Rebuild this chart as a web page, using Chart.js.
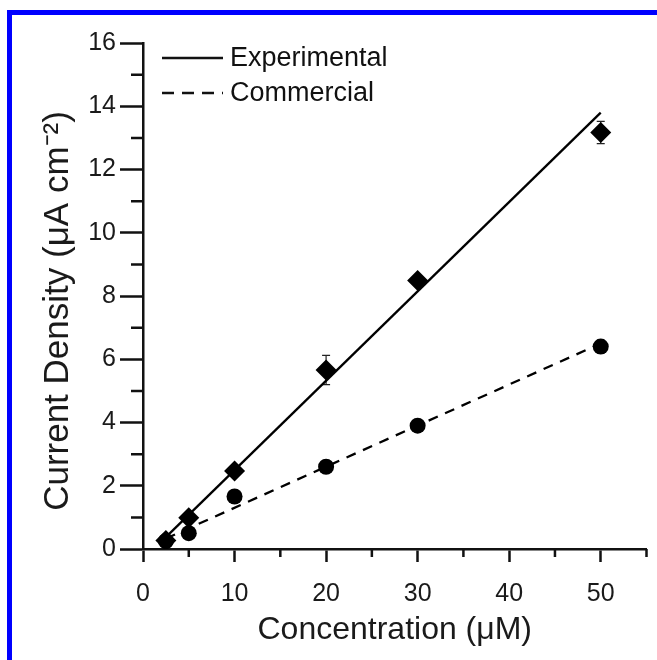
<!DOCTYPE html>
<html>
<head>
<meta charset="utf-8">
<script src="https://cdn.jsdelivr.net/npm/chart.js@4"></script>
<style>
  html, body { margin: 0; padding: 0; background: #fff; overflow: hidden; }
  #wrap { position: absolute; left: 0; top: 0; width: 657px; height: 660px; }
  #frameTop { position: absolute; left: 7px; top: 10px; width: 650px; height: 5px; background: #0000ff; }
  #frameLeft { position: absolute; left: 7px; top: 10px; width: 5px; height: 650px; background: #0000ff; }
</style>
</head>
<body>
<div id="wrap"><canvas id="chart" width="657" height="660"></canvas></div>
<div id="frameTop"></div>
<div id="frameLeft"></div>
<script>
// concentrations (uM)
var concX = [2.5, 5, 10, 20, 30, 50];
// experimental electrode (diamonds)
var expY = [0.27, 0.99, 2.47, 5.66, 8.49, 13.17];
var expErr = [0.05, 0.08, 0.1, 0.46, 0.15, 0.35];
// commercial electrode (circles)
var comY = [0.25, 0.5, 1.66, 2.6, 3.9, 6.4];
var comErr = [0.05, 0.05, 0.08, 0.1, 0.1, 0.2];
// fitted lines, endpoints
var expFitX = [1.8, 50];
var expFitY = [0.18, 13.8];
var comFitX = [2.5, 50];
var comFitY = [0.33, 6.5];
// axis ticks
var xTickLabels = [0, 10, 20, 30, 40, 50];
var yTickLabels = [0, 2, 4, 6, 8, 10, 12, 14, 16];
var legendNames = ['Experimental', 'Commercial'];
var yTitle = 'Current Density (μA cm⁻²)';

function toPoints(xs, ys) {
    return xs.map(function (x, i) { return { x: x, y: ys[i] }; });
}

var ink = '#111';
var fontFamily = '"Liberation Sans", Arial, sans-serif';

// minor ticks + error bars + legend + y title
var extras = {
    id: 'extras',
    beforeDatasetsDraw: function (chart) {
        var ctx = chart.ctx;
        var xs = chart.scales.x, ys = chart.scales.y;
        ctx.save();
        ctx.strokeStyle = '#222';
        ctx.lineWidth = 1.2;
        [[expY, expErr], [comY, comErr]].forEach(function (s) {
            concX.forEach(function (cx, i) {
                var px = xs.getPixelForValue(cx);
                var top = ys.getPixelForValue(s[0][i] + s[1][i]);
                var bot = ys.getPixelForValue(s[0][i] - s[1][i]);
                ctx.beginPath();
                ctx.moveTo(px, top); ctx.lineTo(px, bot);
                ctx.moveTo(px - 4, top); ctx.lineTo(px + 4, top);
                ctx.moveTo(px - 4, bot); ctx.lineTo(px + 4, bot);
                ctx.stroke();
            });
        });
        ctx.restore();
    },
    afterDraw: function (chart) {
        var ctx = chart.ctx;
        var xs = chart.scales.x, ys = chart.scales.y;
        var area = chart.chartArea;
        ctx.save();
        ctx.strokeStyle = ink;
        ctx.lineWidth = 2.5;
        ctx.beginPath();
        for (var v = 5; v <= 55; v += 10) {
            var px = xs.getPixelForValue(v);
            ctx.moveTo(px, area.bottom); ctx.lineTo(px, area.bottom + 8);
        }
        for (var w = 1; w <= 15; w += 2) {
            var py = ys.getPixelForValue(w);
            ctx.moveTo(area.left, py); ctx.lineTo(area.left - 12, py);
        }
        ctx.stroke();

        // legend
        var lx = area.left + 19, ly = area.top + 15, gap = 35;
        ctx.lineWidth = 2.5;
        ctx.beginPath();
        ctx.moveTo(lx, ly); ctx.lineTo(lx + 61, ly);
        ctx.stroke();
        ctx.setLineDash([12, 8]);
        ctx.beginPath();
        ctx.moveTo(lx, ly + gap); ctx.lineTo(lx + 61, ly + gap);
        ctx.stroke();
        ctx.setLineDash([]);
        ctx.fillStyle = ink;
        ctx.font = '27px ' + fontFamily;
        ctx.textBaseline = 'middle';
        ctx.fillText(legendNames[0], lx + 68, ly + 1);
        ctx.fillText(legendNames[1], lx + 68, ly + gap + 1);

        // y axis title
        ctx.fillStyle = '#1a1a1a';
        ctx.font = '35px ' + fontFamily;
        ctx.textAlign = 'center';
        ctx.translate(58, 311);
        ctx.rotate(-Math.PI / 2);
        ctx.fillText(yTitle, 0, 0);
        ctx.restore();
    }
};

var chart = new Chart(document.getElementById('chart').getContext('2d'), {
    type: 'scatter',
    data: {
        datasets: [{
            label: 'Experimental data',
            data: toPoints(concX, expY),
            pointStyle: 'rectRot',
            pointRadius: 10.5,
            backgroundColor: '#000',
            borderColor: '#000',
            borderWidth: 0
        }, {
            label: 'Commercial data',
            data: toPoints(concX, comY),
            pointStyle: 'circle',
            pointRadius: 8,
            backgroundColor: '#000',
            borderColor: '#000',
            borderWidth: 0
        }, {
            label: legendNames[0],
            data: toPoints(expFitX, expFitY),
            showLine: true,
            pointRadius: 0,
            borderColor: '#000',
            borderWidth: 2.3
        }, {
            label: legendNames[1],
            data: toPoints(comFitX, comFitY),
            showLine: true,
            pointRadius: 0,
            borderColor: '#000',
            borderWidth: 2.3,
            borderDash: [10, 8]
        }]
    },
    options: {
        responsive: false,
        animation: false,
        events: [],
        layout: { padding: { top: 43, right: 7, left: 0, bottom: 0 } },
        plugins: {
            legend: { display: false },
            tooltip: { enabled: false }
        },
        scales: {
            x: {
                type: 'linear',
                min: 0,
                max: 55,
                afterFit: function (scale) {
                    scale.height = 111;
                    scale.paddingRight = 0;
                    scale.paddingLeft = 0;
                },
                border: { display: true, color: ink, width: 2.5 },
                grid: {
                    drawOnChartArea: false,
                    drawTicks: true,
                    tickLength: 13,
                    tickWidth: 2.5,
                    tickColor: function (c) {
                        return xTickLabels.indexOf(c.tick && c.tick.value) >= 0 ? ink : 'rgba(0,0,0,0)';
                    }
                },
                ticks: {
                    stepSize: 5,
                    autoSkip: false,
                    maxRotation: 0,
                    padding: 17,
                    color: '#1a1a1a',
                    font: { family: fontFamily, size: 25 },
                    callback: function (v) { return xTickLabels.indexOf(v) >= 0 ? String(v) : ''; }
                },
                title: {
                    display: true,
                    text: 'Concentration (μM)',
                    color: '#1a1a1a',
                    font: { family: fontFamily, size: 32 },
                    padding: { top: 0, bottom: 11 }
                }
            },
            y: {
                type: 'linear',
                min: 0,
                max: 16,
                afterFit: function (scale) { scale.width = 143; },
                border: { display: true, color: ink, width: 2.5 },
                grid: {
                    drawOnChartArea: false,
                    drawTicks: true,
                    tickLength: 23,
                    tickWidth: 2.5,
                    tickColor: function (c) {
                        return yTickLabels.indexOf(c.tick && c.tick.value) >= 0 ? ink : 'rgba(0,0,0,0)';
                    }
                },
                ticks: {
                    stepSize: 1,
                    autoSkip: false,
                    padding: 4,
                    color: '#1a1a1a',
                    font: { family: fontFamily, size: 25 },
                    callback: function (v) { return yTickLabels.indexOf(v) >= 0 ? String(v) : ''; }
                },
                title: { display: false }
            }
        }
    },
    plugins: [extras]
});
</script>
</body>
</html>
